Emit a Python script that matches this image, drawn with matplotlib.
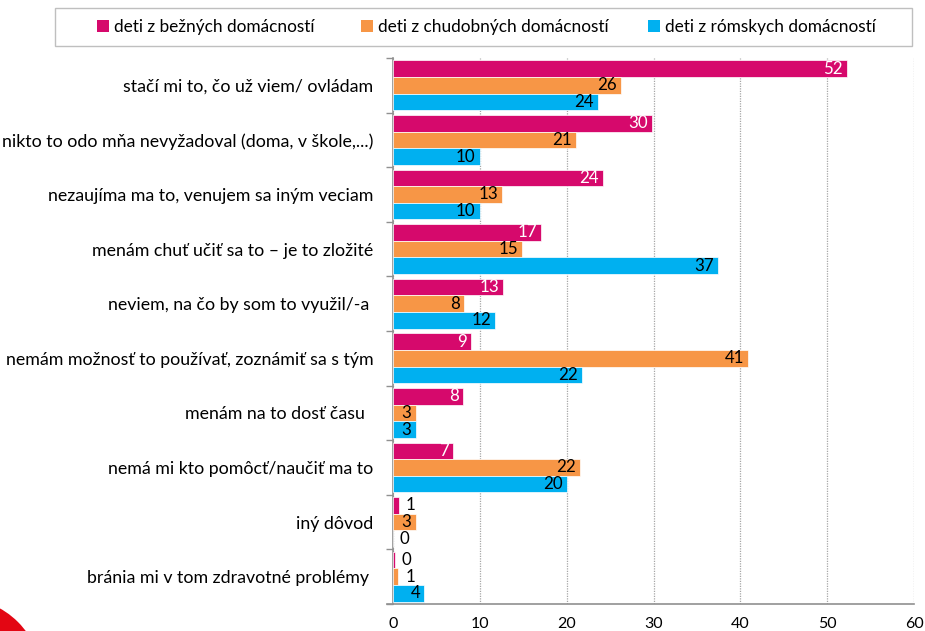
import matplotlib
matplotlib.use("Agg")
import matplotlib.pyplot as plt
from matplotlib.patches import Patch, Circle, Rectangle
import numpy as np

categories = [
    "stačí mi to, čo už viem/ ovládam",
    "nikto to odo mňa nevyžadoval (doma, v škole,...)",
    "nezaujíma ma to, venujem sa iným veciam",
    "menám chuť učiť sa to – je to zložité",
    "neviem, na čo by som to využil/-a ",
    "nemám možnosť to používať, zoznámiť sa s tým",
    "menám na to dosť času  ",
    "nemá mi kto pomôcť/naučiť ma to",
    "iný dôvod",
    "bránia mi v tom zdravotné problémy ",
]
series_names = ["deti z bežných domácností", "deti z chudobných domácností", "deti z rómskych domácností"]
bezne = [52.3, 29.8, 24.2, 17.1, 12.7, 9.0, 8.1, 6.9, 0.7, 0.2]
chudobne = [26.3, 21.1, 12.6, 14.9, 8.2, 40.9, 2.6, 21.5, 2.6, 0.6]
romske = [23.6, 10.0, 10.0, 37.4, 11.8, 21.8, 2.6, 20.0, 0.0, 3.6]
bezne_lbl = [52, 30, 24, 17, 13, 9, 8, 7, 1, 0]
chudobne_lbl = [26, 21, 13, 15, 8, 41, 3, 22, 3, 1]
romske_lbl = [24, 10, 10, 37, 12, 22, 3, 20, 0, 4]
xticks = [0, 10, 20, 30, 40, 50, 60]

colors = ["#D6096C", "#F79646", "#00B0F0"]
label_colors = ["white", "black", "black"]

FONT = "Lato"
plt.rcParams["font.family"] = [FONT, "DejaVu Sans"]
CAT_FS = 12.8
VAL_FS = 12.2
LEG_FS = 12.4

W, H = 925, 631
fig = plt.figure(figsize=(W / 100, H / 100), dpi=100)
ax = fig.add_axes([393/W, 1-604/H, (914-393)/W, (604-58)/H])

n = len(categories)
y = np.arange(n)
h = 0.305
offsets = [-h, 0, h]
data = [bezne, chudobne, romske]
lbls = [bezne_lbl, chudobne_lbl, romske_lbl]

ax.set_xlim(0, 60)
ax.set_ylim(n - 0.5, -0.5)

bars = []
for s in range(3):
    b = ax.barh(y + offsets[s], data[s], height=h, color=colors[s], edgecolor="white",
                linewidth=0.5, zorder=3, label=series_names[s])
    bars.append(b)

fig.canvas.draw()
renderer = fig.canvas.get_renderer()
px_per_unit = ax.get_window_extent().width / 60.0
for s in range(3):
    for i in range(n):
        v = data[s][i]
        txt = str(lbls[s][i])
        t = ax.text(0, 0, txt, fontsize=VAL_FS)
        tw = t.get_window_extent(renderer).width
        t.remove()
        wpx = v * px_per_unit
        if wpx >= tw + 5:
            ax.annotate(txt, (v, y[i] + offsets[s]), xytext=(-3, 0), textcoords="offset points",
                        ha="right", va="center", fontsize=VAL_FS, color=label_colors[s], zorder=4)
        else:
            ax.annotate(txt, (v, y[i] + offsets[s]), xytext=(5, 0), textcoords="offset points",
                        ha="left", va="center", fontsize=VAL_FS, color="black", zorder=4)

ax.set_yticks(y)
ax.set_yticklabels(categories, fontsize=CAT_FS)
ax.set_yticks(np.arange(-0.5, n, 1.0), minor=True)
ax.tick_params(axis="y", which="major", length=0, pad=14)
ax.tick_params(axis="y", which="minor", length=5, color="#909090", width=1)
ax.set_xticks(xticks)
ax.set_xticklabels([str(v) for v in xticks], fontsize=11.5)
ax.tick_params(axis="x", length=0, pad=9)

ax.grid(axis="x", color="#a6a6a6", linestyle=(0, (1, 1)), linewidth=0.9, zorder=0)
for sp in ["top", "right"]:
    ax.spines[sp].set_visible(False)
ax.spines["left"].set_color("#909090")
ax.spines["bottom"].set_color("#909090")
ax.spines["left"].set_linewidth(1.2)
ax.spines["bottom"].set_linewidth(1.2)
ax.spines["bottom"].set_bounds(-0.7, 60)

# legend: frame box plus three entries at their positions
frame = Rectangle((55/W, 1-46/H), 857/W, 38/H, transform=fig.transFigure,
                  facecolor="white", edgecolor="#bfbfbf", linewidth=1.0)
fig.add_artist(frame)
leg_x = [97, 361, 648]
for s in range(3):
    handle = Patch(facecolor=colors[s], edgecolor="none")
    lg = fig.legend([handle], [series_names[s]], loc="center left",
                    bbox_to_anchor=(leg_x[s]/W, 1-27/H), borderaxespad=0, borderpad=0,
                    frameon=False, fontsize=LEG_FS, handlelength=0.7, handleheight=0.7,
                    handletextpad=0.3)
    lg.set_zorder(5)

# decorative red logo fragment bottom-left
circ = Circle((-0.40, -0.49), 0.82, transform=fig.dpi_scale_trans, facecolor="#E30613",
              edgecolor="none", clip_on=False)
fig.add_artist(circ)

fig.savefig("out.png", dpi=100)
